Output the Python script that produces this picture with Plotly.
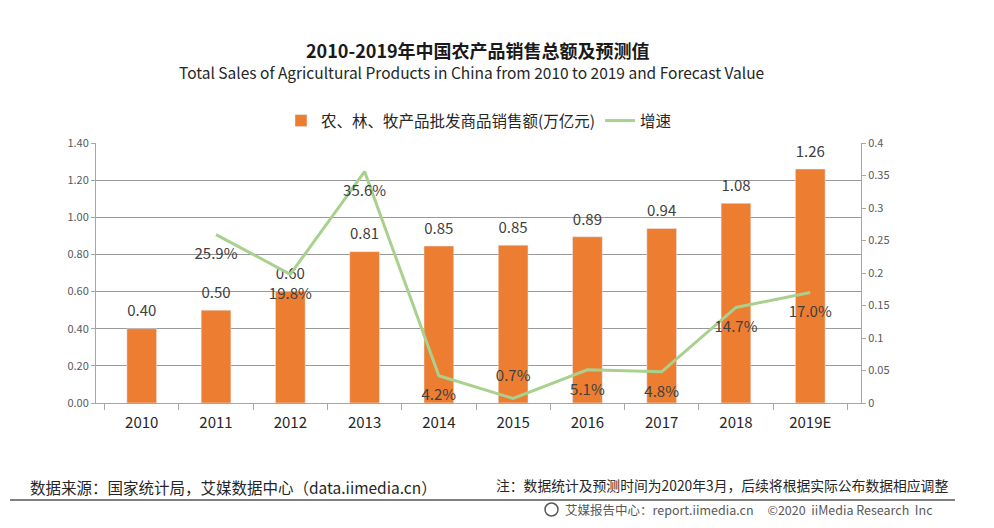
import plotly.graph_objects as go

# 数据
years = ["2010", "2011", "2012", "2013", "2014", "2015", "2016", "2017", "2018", "2019E"]
sales = [0.40, 0.50, 0.60, 0.815, 0.845, 0.85, 0.895, 0.94, 1.075, 1.26]
sales_labels = ["0.40", "0.50", "0.60", "0.81", "0.85", "0.85", "0.89", "0.94", "1.08", "1.26"]
growth_years = years[1:]
growth = [0.259, 0.198, 0.356, 0.042, 0.007, 0.051, 0.048, 0.147, 0.170]
growth_labels = ["25.9%", "19.8%", "35.6%", "4.2%", "0.7%", "5.1%", "4.8%", "14.7%", "17.0%"]
growth_pos = ["bottom center"] * 4 + ["top center"] + ["bottom center"] * 4

FONT = "Noto Sans CJK SC"

# 页面有 8px 的 body 边距, 所以坐标都减 8
OFF = 8
W, H = 994 - OFF, 528 - OFF
L, R, T, B = 96 - OFF, 861 - OFF, 143 - OFF, 403 - OFF


def py(y):
    return (B - (y - OFF)) / (B - T)


def px(x):
    return ((x - OFF) - L) / (R - L)


fig = go.Figure()

fig.add_trace(go.Bar(
    x=years, y=sales, name="农、林、牧产品批发商品销售额(万亿元)",
    marker=dict(color="#ed7d31"),
))

# 柱子上的数值标签
fig.add_trace(go.Scatter(
    x=years, y=sales, mode="markers+text", showlegend=False, hoverinfo="skip",
    marker=dict(size=12, color="rgba(0,0,0,0)"),
    text=sales_labels, textposition="top center", cliponaxis=False,
    textfont=dict(size=15, color="#404040", family=FONT),
))

fig.add_trace(go.Scatter(
    x=growth_years, y=growth, name="增速", yaxis="y2",
    mode="lines+markers+text", line=dict(color="#a9d18e", width=3),
    marker=dict(size=20, color="rgba(0,0,0,0)"),
    text=growth_labels, textposition=growth_pos, cliponaxis=False,
    textfont=dict(size=15, color="#404040", family=FONT),
))

annotations = [
    dict(text="<b>2010-2019年中国农产品销售总额及预测值</b>", x=px(478), y=py(50),
         font=dict(size=18, color="#1a1a1a")),
    dict(text="Total Sales of Agricultural Products in China from 2010 to 2019 and Forecast Value",
         x=px(471), y=py(72), font=dict(size=15.5, color="#262626")),
    dict(text="数据来源：国家统计局，艾媒数据中心（data.iimedia.cn）", x=px(28), y=py(487),
         xanchor="left", font=dict(size=15.5, color="#262626")),
    dict(text="注：数据统计及预测时间为2020年3月，后续将根据实际公布数据相应调整", x=px(950), y=py(485),
         xanchor="right", font=dict(size=13.8, color="#262626")),
    dict(text="艾媒报告中心：report.iimedia.cn     ©2020  iiMedia Research  Inc", x=px(935), y=py(510),
         xanchor="right", font=dict(size=12.5, color="#595959")),
]
for a in annotations:
    a.setdefault("xanchor", "center")
    a.update(xref="paper", yref="paper", showarrow=False, yanchor="middle")
    a["font"].setdefault("family", FONT)

shapes = [
    dict(type="line", xref="paper", yref="paper", x0=px(10), x1=px(955), y0=py(500), y1=py(500),
         line=dict(color="#808080", width=2)),
    dict(type="circle", xref="paper", yref="paper", x0=px(545), x1=px(558), y0=py(503), y1=py(516),
         line=dict(color="#595959", width=1.5)),
]

fig.update_layout(
    width=W, height=H,
    margin=dict(l=L, r=W - R, t=T, b=H - B),
    paper_bgcolor="white", plot_bgcolor="white",
    font=dict(family=FONT, color="#404040"),
    bargap=0.6,
    showlegend=True,
    legend=dict(orientation="h", x=0.5, xanchor="center", y=py(121), yanchor="middle",
                font=dict(size=15.5, color="#262626"), itemwidth=30),
    xaxis=dict(type="category", tickson="boundaries", ticks="outside", ticklen=6,
               tickcolor="#a6a6a6", showline=True, linecolor="#a6a6a6", linewidth=1,
               tickfont=dict(size=15, color="#262626"), ticklabelstandoff=6, showgrid=False),
    yaxis=dict(range=[0, 1.4], dtick=0.2, tickformat=".2f", showline=True, linecolor="#a6a6a6",
               ticks="outside", ticklen=4, tickcolor="#a6a6a6", gridcolor="#999999",
               tickfont=dict(size=11, color="#595959"), zeroline=False),
    yaxis2=dict(range=[0, 0.4], dtick=0.05, overlaying="y", side="right", showgrid=False,
                showline=True, linecolor="#a6a6a6", ticks="outside", ticklen=4, tickcolor="#a6a6a6",
                tickfont=dict(size=11, color="#595959"), zeroline=False),
    annotations=annotations,
    shapes=shapes,
)

fig.write_html("out.html")
